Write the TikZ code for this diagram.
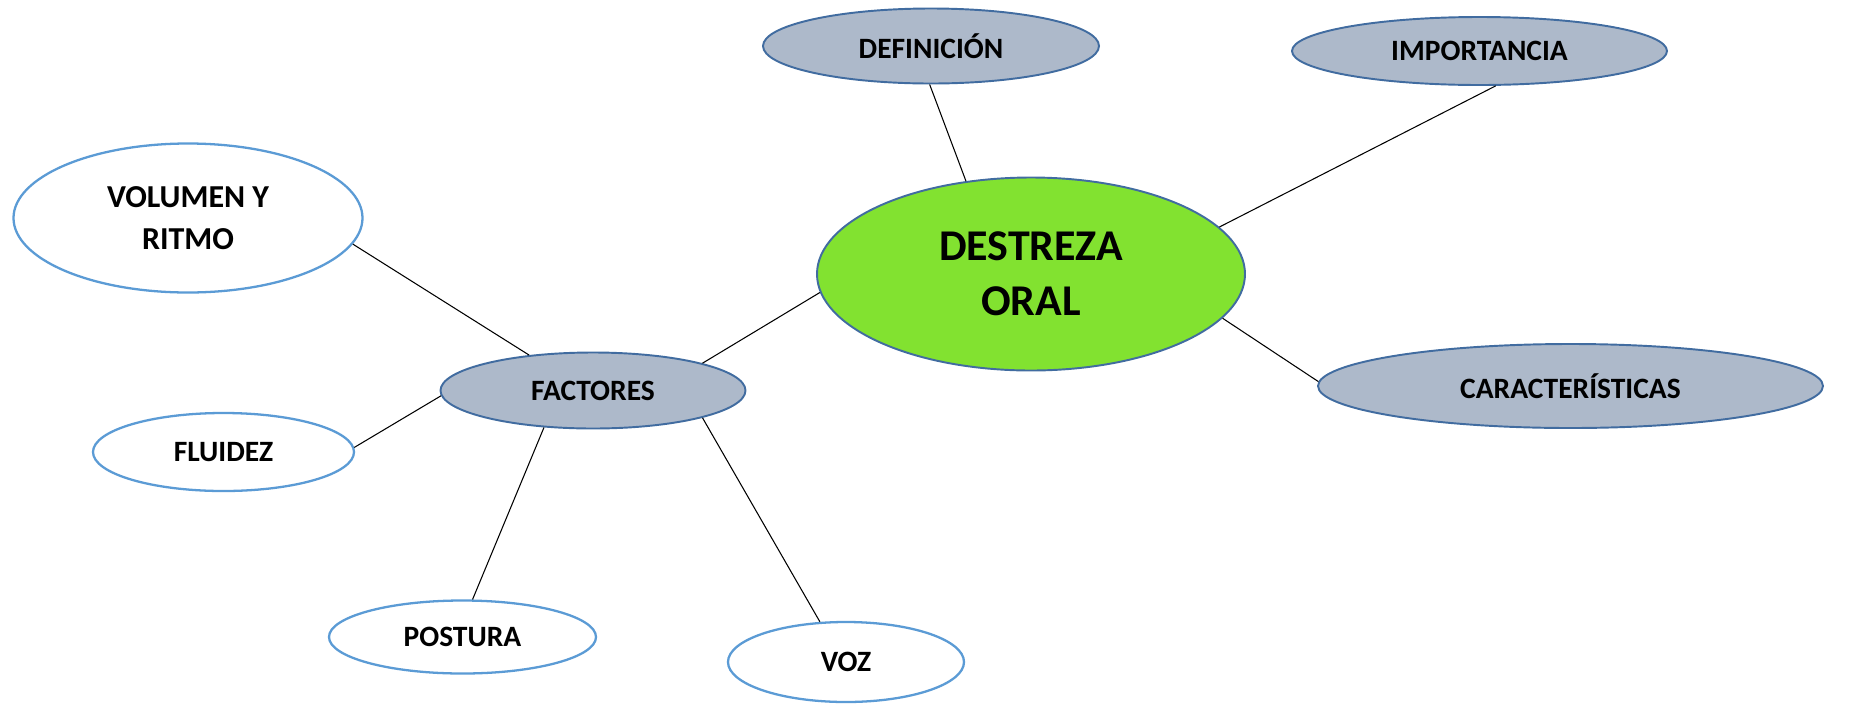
\documentclass[tikz,border=0pt]{standalone}
\usepackage{fontspec}
\setmainfont{Carlito}
\usetikzlibrary{shapes.geometric}
\definecolor{greenfill}{RGB}{130,226,48}
\definecolor{darkedge}{RGB}{65,108,160}
\definecolor{grayfill}{RGB}{173,185,202}
\definecolor{lightedge}{RGB}{91,155,213}
\tikzset{
  px/.style={x=0.02cm,y=-0.02cm},
  ell/.style={ellipse, inner sep=0pt, align=center, font=\bfseries\fontsize{16.8pt}{23.6pt}\selectfont},
  mainell/.style={ell, fill=greenfill, draw=darkedge, line width=1.1pt, font=\bfseries\fontsize{25pt}{31.2pt}\selectfont},
  grayell/.style={ell, fill=grayfill, draw=darkedge, line width=1.1pt},
  whiteell/.style={ell, fill=white, draw=lightedge, line width=1.3pt},
  conn/.style={draw=black, line width=0.6pt}
}
\begin{document}
\begin{tikzpicture}[px]
\useasboundingbox (0,0) rectangle (1850,704);
\node[mainell, minimum width=428*0.02cm, minimum height=193*0.02cm] (dest) at (1031,274) {DESTREZA\\ORAL};
\node[grayell, minimum width=336*0.02cm, minimum height=75*0.02cm] (def) at (931,46) {DEFINICIÓN};
\node[grayell, minimum width=375*0.02cm, minimum height=68*0.02cm] (imp) at (1479.5,51) {IMPORTANCIA};
\node[grayell, minimum width=505*0.02cm, minimum height=84*0.02cm] (car) at (1570.5,386) {CARACTERÍSTICAS};
\node[grayell, minimum width=305*0.02cm, minimum height=76*0.02cm] (fac) at (593,390.5) {FACTORES};
\node[whiteell, font=\bfseries\fontsize{18.2pt}{23.6pt}\selectfont, minimum width=349*0.02cm, minimum height=149*0.02cm] (vol) at (188,218) {VOLUMEN Y\\RITMO};
\node[whiteell, minimum width=261*0.02cm, minimum height=78*0.02cm] (flu) at (223.5,452) {FLUIDEZ};
\node[whiteell, minimum width=267*0.02cm, minimum height=73*0.02cm] (pos) at (462.5,637) {POSTURA};
\node[whiteell, minimum width=236*0.02cm, minimum height=80*0.02cm] (voz) at (846,662) {VOZ};
\draw[conn] (def.268) -- (dest.125.7);
\draw[conn] (imp.295) -- (dest.14);
\draw[conn] (dest.347.7) -- (car.179);
\draw[conn] (dest.185) -- (fac.14);
\draw[conn] (vol.351.5) -- (fac.151.2);
\draw[conn] (flu.2.2) -- (fac.182.2);
\draw[conn] (pos.75.3) -- (fac.217.4);
\draw[conn] (fac.346.5) -- (voz.123.3);
\end{tikzpicture}
\end{document}
